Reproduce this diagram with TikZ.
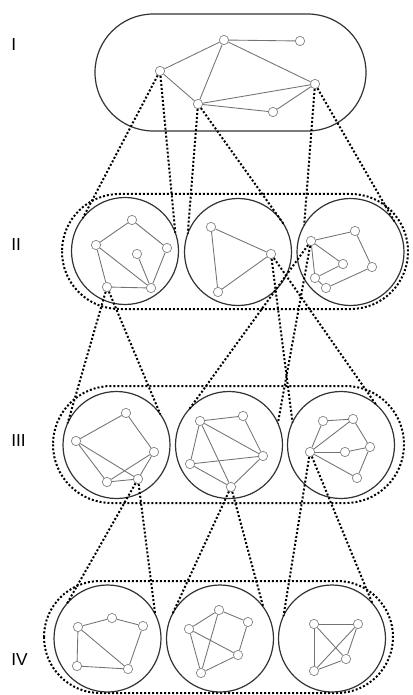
\documentclass[tikz,border=0pt]{standalone}
\usepackage{fontspec}
\setmainfont{Liberation Sans}
\begin{document}
\begin{tikzpicture}[x=0.75pt,y=-0.75pt,
  gn/.style={circle, draw=black!50, fill=white, inner sep=0pt, minimum size=7pt, line width=0.5pt},
  ed/.style={draw=black!55, line width=0.65pt},
  bigc/.style={circle, draw=black!80, line width=0.9pt, minimum size=80.25pt, inner sep=0pt, outer sep=0pt},
  dots/.style={line width=1.5pt, dash pattern=on 1.5pt off 1.5pt, black},
  lab/.style={font=\fontsize{13}{15}\selectfont, anchor=west, inner sep=0pt}]
\useasboundingbox (0,0) rectangle (412,695);

% outlines
\draw[line width=0.9pt, black!80, rounded corners=43.8pt] (95,14) rectangle (366,131);
\draw[dots, rounded corners=43pt] (62,194) rectangle (408,309);
\draw[dots, rounded corners=43.8pt] (53,386) rectangle (404,503);
\draw[dots, rounded corners=42pt] (44,581) rectangle (393,693);

% labels
\node[lab] (l1) at (11,45) {I};
\node[lab] (l2) at (11,245) {II};
\node[lab] (l3) at (11,441) {III};
\node[lab] (l4) at (11,660) {IV};

% big circles
\node[bigc] (s21) at (125,251) {};
\node[bigc] (s22) at (238,252) {};
\node[bigc] (s23) at (350.5,252) {};
\node[bigc] (s31) at (116.5,445) {};
\node[bigc] (s32) at (229,445) {};
\node[bigc] (s33) at (341,445) {};
\node[bigc] (s41) at (107.5,638.5) {};
\node[bigc] (s42) at (220,638.5) {};
\node[bigc] (s43) at (332,638.5) {};

% level I graph
\node[gn] (A) at (224,40) {};
\node[gn] (B) at (300,41) {};
\node[gn] (C) at (160,71) {};
\node[gn] (D) at (198,104) {};
\node[gn] (E) at (315,84) {};
\node[gn] (F) at (273,112) {};
\foreach \u/\v in {A/B,A/C,A/D,A/E,C/D,D/E,D/F,F/E} \draw[ed] (\u) -- (\v);

% level II
\node[gn] (a1) at (132,220) {};
\node[gn] (a2) at (96,245) {};
\node[gn] (a3) at (167,248) {};
\node[gn] (a4) at (137,254) {};
\node[gn] (a5) at (107,287) {};
\node[gn] (a6) at (151,288) {};
\foreach \u/\v in {a1/a2,a1/a3,a2/a5,a2/a6,a3/a6,a4/a6,a5/a6} \draw[ed] (\u) -- (\v);

\node[gn] (b1) at (211,227) {};
\node[gn] (b2) at (271,254) {};
\node[gn] (b3) at (218,292) {};
\foreach \u/\v in {b1/b2,b1/b3,b2/b3} \draw[ed] (\u) -- (\v);

\node[gn] (c1) at (311,241) {};
\node[gn] (c2) at (355,231) {};
\node[gn] (c3) at (343,264) {};
\node[gn] (c4) at (372,267) {};
\node[gn] (c5) at (315,278) {};
\node[gn] (c6) at (326,288) {};
\foreach \u/\v in {c1/c2,c1/c3,c1/c5,c2/c4,c3/c5,c4/c6,c5/c6} \draw[ed] (\u) -- (\v);

% level III
\node[gn] (d1) at (126,413) {};
\node[gn] (d2) at (76,441) {};
\node[gn] (d3) at (154,452) {};
\node[gn] (d4) at (107,482) {};
\node[gn] (d5) at (138,479) {};
\foreach \u/\v in {d1/d2,d1/d3,d2/d4,d2/d5,d3/d4,d3/d5,d4/d5} \draw[ed] (\u) -- (\v);

\node[gn] (e1) at (200,421) {};
\node[gn] (e2) at (243,416) {};
\node[gn] (e3) at (263,456) {};
\node[gn] (e4) at (190,464) {};
\node[gn] (e5) at (231,487) {};
\foreach \u/\v in {e1/e2,e2/e3,e1/e3,e1/e4,e1/e5,e4/e3,e4/e5,e3/e5} \draw[ed] (\u) -- (\v);

\node[gn] (f1) at (323,421) {};
\node[gn] (f2) at (353,419) {};
\node[gn] (f3) at (370,447) {};
\node[gn] (f4) at (345,452) {};
\node[gn] (f5) at (310,452) {};
\node[gn] (f6) at (357,478) {};
\foreach \u/\v in {f1/f2,f1/f5,f2/f3,f2/f5,f3/f4,f4/f5,f5/f6,f3/f6} \draw[ed] (\u) -- (\v);

% level IV
\node[gn] (g1) at (112,618) {};
\node[gn] (g2) at (78,627) {};
\node[gn] (g3) at (143,626) {};
\node[gn] (g4) at (77,666) {};
\node[gn] (g5) at (128,669) {};
\foreach \u/\v in {g2/g1,g1/g3,g2/g4,g2/g5,g3/g5,g4/g5} \draw[ed] (\u) -- (\v);

\node[gn] (h1) at (219,610) {};
\node[gn] (h2) at (248,622) {};
\node[gn] (h3) at (189,629) {};
\node[gn] (h4) at (238,655) {};
\node[gn] (h5) at (201,673) {};
\foreach \u/\v in {h1/h2,h1/h3,h1/h5,h2/h4,h3/h4,h3/h5,h4/h5} \draw[ed] (\u) -- (\v);

\node[gn] (i1) at (314,624) {};
\node[gn] (i2) at (358,624) {};
\node[gn] (i3) at (346,659) {};
\node[gn] (i4) at (314,671) {};
\foreach \u/\v in {i1/i2,i1/i4,i1/i3,i2/i4,i2/i3,i3/i4} \draw[ed] (\u) -- (\v);

% dotted expansion lines
\draw[dots] (C) -- (s21.142);
\draw[dots] (C) -- (s21.20);
\draw[dots] (D) -- (s22.160);
\draw[dots] (D) -- (s22.32);
\draw[dots] (E) -- (s23.150);
\draw[dots] (E) -- (s23.35);

\draw[dots] (a5) -- (s31.156);
\draw[dots] (a5) -- (s31.35);
\draw[dots] (c1) -- (s32.138);
\draw[dots] (c1) -- (s32.24);
\draw[dots] (b2) -- (s33.155);
\draw[dots] (b2) -- (s33.49);

\draw[dots] (d5) -- (s41.139);
\draw[dots] (d5) -- (s41.27);
\draw[dots] (e5) -- (s42.153);
\draw[dots] (e5) -- (s42.36);
\draw[dots] (f5) -- (s43.155);
\draw[dots] (f5) -- (s43.41);
\end{tikzpicture}
\end{document}
